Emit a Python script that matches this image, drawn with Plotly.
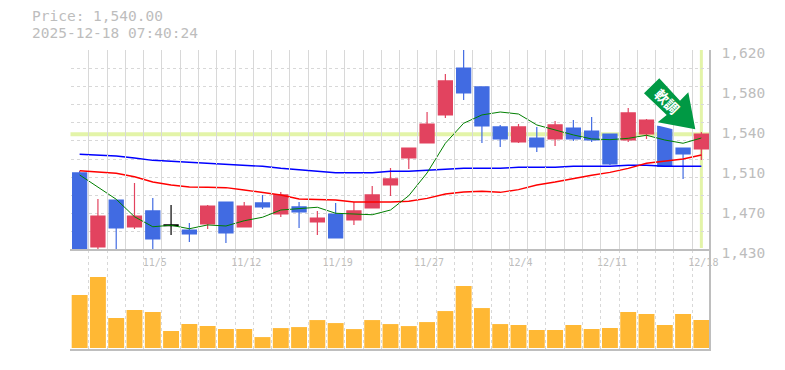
import plotly.graph_objects as go

dates = ["10/29","10/30","10/31","11/4","11/5","11/6","11/7","11/10","11/11","11/12","11/13","11/14",
         "11/17","11/18","11/19","11/20","11/21","11/25","11/26","11/27","11/28","12/1","12/2","12/3",
         "12/4","12/5","12/8","12/9","12/10","12/11","12/12","12/15","12/16","12/17","12/18"]
labelled = ["11/5","11/12","11/19","11/27","12/4","12/11","12/18"]

opens = [1503.2,1432.9,1477.5,1451.9,1467.1,1453.2,1449.0,1454.7,1475.6,1451.9,1474.7,1464.2,
         1470.9,1456.6,1464.2,1458.5,1469.9,1491.8,1517.4,1531.7,1558.3,1602.9,1584.9,1546.9,
         1532.6,1536.4,1535.5,1545.9,1543.0,1540.2,1534.5,1540.2,1547.8,1526.9,1526.0]
closes = [1431.0,1462.3,1450.9,1462.3,1440.5,1453.8,1445.2,1471.8,1446.2,1471.8,1470.9,1482.3,
          1466.1,1460.4,1441.4,1467.1,1482.3,1497.5,1526.9,1549.7,1590.6,1579.2,1547.8,1535.5,
          1546.9,1527.9,1548.8,1535.5,1534.5,1511.7,1560.2,1553.5,1509.5,1521.2,1540.0]
highs = [1505.0,1478.5,1477.5,1493.7,1479.4,1472.8,1455.7,1472.8,1475.6,1475.6,1482.3,1485.1,
         1475.6,1467.1,1474.7,1475.6,1490.8,1507.9,1526.9,1561.1,1597.2,1620.0,1584.9,1548.8,
         1549.7,1546.9,1552.6,1553.5,1556.4,1540.2,1564.9,1554.5,1547.8,1526.9,1542.1]
lows = [1431.0,1431.0,1430.0,1450.0,1430.0,1444.3,1437.6,1450.0,1436.7,1451.9,1469.0,1461.4,
        1450.9,1444.3,1441.4,1453.8,1469.9,1481.3,1507.0,1531.7,1555.4,1572.5,1531.7,1527.9,
        1531.7,1523.1,1528.8,1533.6,1532.6,1510.8,1532.6,1535.5,1509.5,1497.5,1515.5]

ma_short = [1501.3,1490.1,1478.2,1461.6,1452.1,1453.5,1450.2,1453.8,1452.8,1457.8,1461.1,1468.0,
            1469.2,1470.6,1464.9,1464.2,1463.5,1468.0,1481.6,1503.2,1531.4,1550.4,1558.3,1561.1,
            1559.2,1548.8,1544.0,1539.3,1535.5,1534.8,1536.1,1539.0,1534.5,1531.4,1536.4]
ma_mid = [1505.3,1504.1,1502.9,1499.6,1494.6,1491.8,1489.9,1489.6,1489.2,1487.0,1484.4,1482.3,
          1478.5,1478.2,1477.5,1475.6,1475.3,1475.6,1476.3,1479.1,1483.2,1485.1,1485.8,1484.8,
          1487.3,1491.8,1494.6,1498.1,1501.0,1503.8,1507.6,1512.4,1514.3,1516.5,1520.3]
ma_long = [1520.9,1520.0,1519.3,1517.4,1515.2,1514.3,1513.3,1512.4,1511.4,1510.5,1509.5,1507.6,
           1506.3,1505.0,1503.4,1503.4,1503.4,1504.8,1504.8,1505.7,1506.7,1507.6,1507.6,1507.6,
           1508.6,1508.6,1508.6,1509.5,1509.5,1509.5,1510.5,1510.5,1509.5,1509.5,1509.5]
volumes = [53,71,30,38,36,17,24,22,19,19,11,20,21,28,25,19,28,24,
           22,26,37,62,40,24,23,18,18,23,19,20,36,34,23,34,28]

price_ticks = [1620,1582,1544,1506,1468,1430]
price_tick_text = ["1,620","1,580","1,540","1,510","1,470","1,430"]
PRICE_LOW, PRICE_HIGH = 1430, 1620
GRID_STEP = (PRICE_HIGH - PRICE_LOW) / 11
grid_ticks = [PRICE_LOW + GRID_STEP * i for i in range(12)]
current_price = 1540

W, H = 785, 370
def fx(px): return px / W
def fy(py): return 1 - py / H

UP, DOWN = "#E2435F", "#416BE2"
GRID = "#D8D8D8"
AXIS = "#BEBEBE"
TEXT = "#BDBDBD"
HILITE = "#E3F4A8"
MONO = "DejaVu Sans Mono"

fig = go.Figure()
fig.add_scatter(x=dates, y=ma_long, mode="lines", line=dict(color="#0000FF", width=1.4), xaxis="x", yaxis="y")
fig.add_scatter(x=dates, y=ma_mid, mode="lines", line=dict(color="#FF0000", width=1.4), xaxis="x", yaxis="y")
fig.add_scatter(x=dates, y=ma_short, mode="lines", line=dict(color="#007F00", width=1), xaxis="x", yaxis="y")

is_doji = [abs(o - c) < 1 for o, c in zip(opens, closes)]
def keep(seq, want): return [v if d == want else None for v, d in zip(seq, is_doji)]
fig.add_candlestick(x=dates, open=keep(opens, False), high=keep(highs, False),
                    low=keep(lows, False), close=keep(closes, False),
                    increasing=dict(line=dict(color=UP, width=1.2), fillcolor=UP),
                    decreasing=dict(line=dict(color=DOWN, width=1.2), fillcolor=DOWN),
                    whiskerwidth=0, xaxis="x", yaxis="y")
fig.add_candlestick(x=dates, open=keep(opens, True), high=keep(highs, True),
                    low=keep(lows, True), close=keep(closes, True),
                    increasing=dict(line=dict(color="#000000", width=1.2), fillcolor="#000000"),
                    decreasing=dict(line=dict(color="#000000", width=1.2), fillcolor="#000000"),
                    whiskerwidth=0, xaxis="x", yaxis="y")
fig.add_bar(x=dates, y=volumes, marker=dict(color="#FFB834", line=dict(width=0)), xaxis="x", yaxis="y2")
fig.add_scatter(x=dates, y=[None] * len(dates), xaxis="x", yaxis="y3", showlegend=False)

fig.update_layout(
    width=W, height=H, autosize=False, showlegend=False,
    margin=dict(l=0, r=0, t=0, b=0, pad=0, autoexpand=False), paper_bgcolor="#FFFFFF", plot_bgcolor="rgba(0,0,0,0)",
    bargap=0.13, boxgap=0.23, boxgroupgap=0, boxmode="overlay", hovermode=False,
    xaxis=dict(type="category", categoryorder="array", categoryarray=dates, domain=[fx(70.5), fx(710.5)],
               anchor="y", rangeslider=dict(visible=False), tickson="boundaries",
               tickmode="array", tickvals=dates, tickangle=0,
               ticktext=[d if d in labelled else "" for d in dates],
               ticks="", ticklabelshift=2, ticklabelstandoff=5, showgrid=True, gridcolor=GRID,
               griddash="3px,3px", gridwidth=1, showline=False, zeroline=False,
               tickfont=dict(family=MONO, size=10, color=TEXT)),
    yaxis=dict(domain=[fy(250), fy(50)], range=[PRICE_LOW, PRICE_HIGH], anchor="x",
               tickmode="array", tickvals=grid_ticks, showticklabels=False, ticks="",
               showgrid=True, gridcolor=GRID, griddash="3px,3px", gridwidth=1, zeroline=False),
    yaxis2=dict(domain=[fy(350), fy(250)], range=[-1.9, 98], anchor="x", showticklabels=False, ticks="",
                showgrid=False, zeroline=False),
    yaxis3=dict(domain=[fy(252.7), fy(52.7)], range=[PRICE_LOW, PRICE_HIGH], anchor="x", side="right",
                tickmode="array", tickvals=price_ticks, ticktext=price_tick_text, ticks="",
                ticklabelstandoff=10, showgrid=False, zeroline=False,
                tickfont=dict(family=MONO, size=14.5, color=TEXT)),
)

line_ax = dict(type="line", line=dict(color=AXIS, width=2), layer="above")
shapes = [
    dict(type="line", xref="x domain", x0=0, x1=1, yref="y", y0=current_price, y1=current_price,
         line=dict(color=HILITE, width=4), layer="below"),
    dict(type="line", xref="x", x0=dates[-1], x1=dates[-1], yref="paper", y0=fy(248), y1=fy(50),
         line=dict(color=HILITE, width=3), layer="below"),
    dict(line_ax, xref="paper", x0=fx(70), x1=fx(710), yref="paper", y0=fy(250), y1=fy(250)),
    dict(line_ax, xref="paper", x0=fx(70), x1=fx(711), yref="paper", y0=fy(350), y1=fy(350)),
    dict(line_ax, xref="paper", x0=fx(710), x1=fx(710), yref="paper", y0=fy(50), y1=fy(350)),
]
def poly(points, color):
    path = "M " + " L ".join(f"{fx(a):.5f},{fy(b):.5f}" for a, b in points) + " Z"
    return dict(type="path", xref="paper", yref="paper", path=path, fillcolor=color,
                line=dict(width=0), layer="above")
shapes.append(poly([(655.5, 125), (673, 129.3), (673, 123), (655.5, 121)], "#FFFFFF"))
shapes.append(poly([(659.3, 78.3), (644, 93.3), (666.7, 115), (657.7, 122.3), (695.3, 129.3),
                    (688.3, 92.3), (680, 100.7)], "#009944"))
fig.update_layout(shapes=shapes)

def note(text, x, y, size, color, angle=0, anchor="left"):
    fig.add_annotation(text=text, xref="paper", yref="paper", x=fx(x), y=fy(y), showarrow=False,
                       xanchor=anchor, yanchor="middle", textangle=angle,
                       font=dict(family=MONO, size=size, color=color))
note("Price: 1,540.00", 30, 16.5, 14.5, TEXT)
note("2025-12-18 07:40:24", 30, 33.5, 14.5, TEXT)
fig.add_annotation(text="<b>軟調</b>", xref="paper", yref="paper", x=fx(667), y=fy(101.5), showarrow=False, textangle=45,
                   xanchor="center", yanchor="middle",
                   font=dict(family="Noto Sans CJK JP", size=14, color="#FFFFFF"))

fig.write_html("out.html", config=dict(displayModeBar=False),
               post_script="document.body.style.margin='0';")
